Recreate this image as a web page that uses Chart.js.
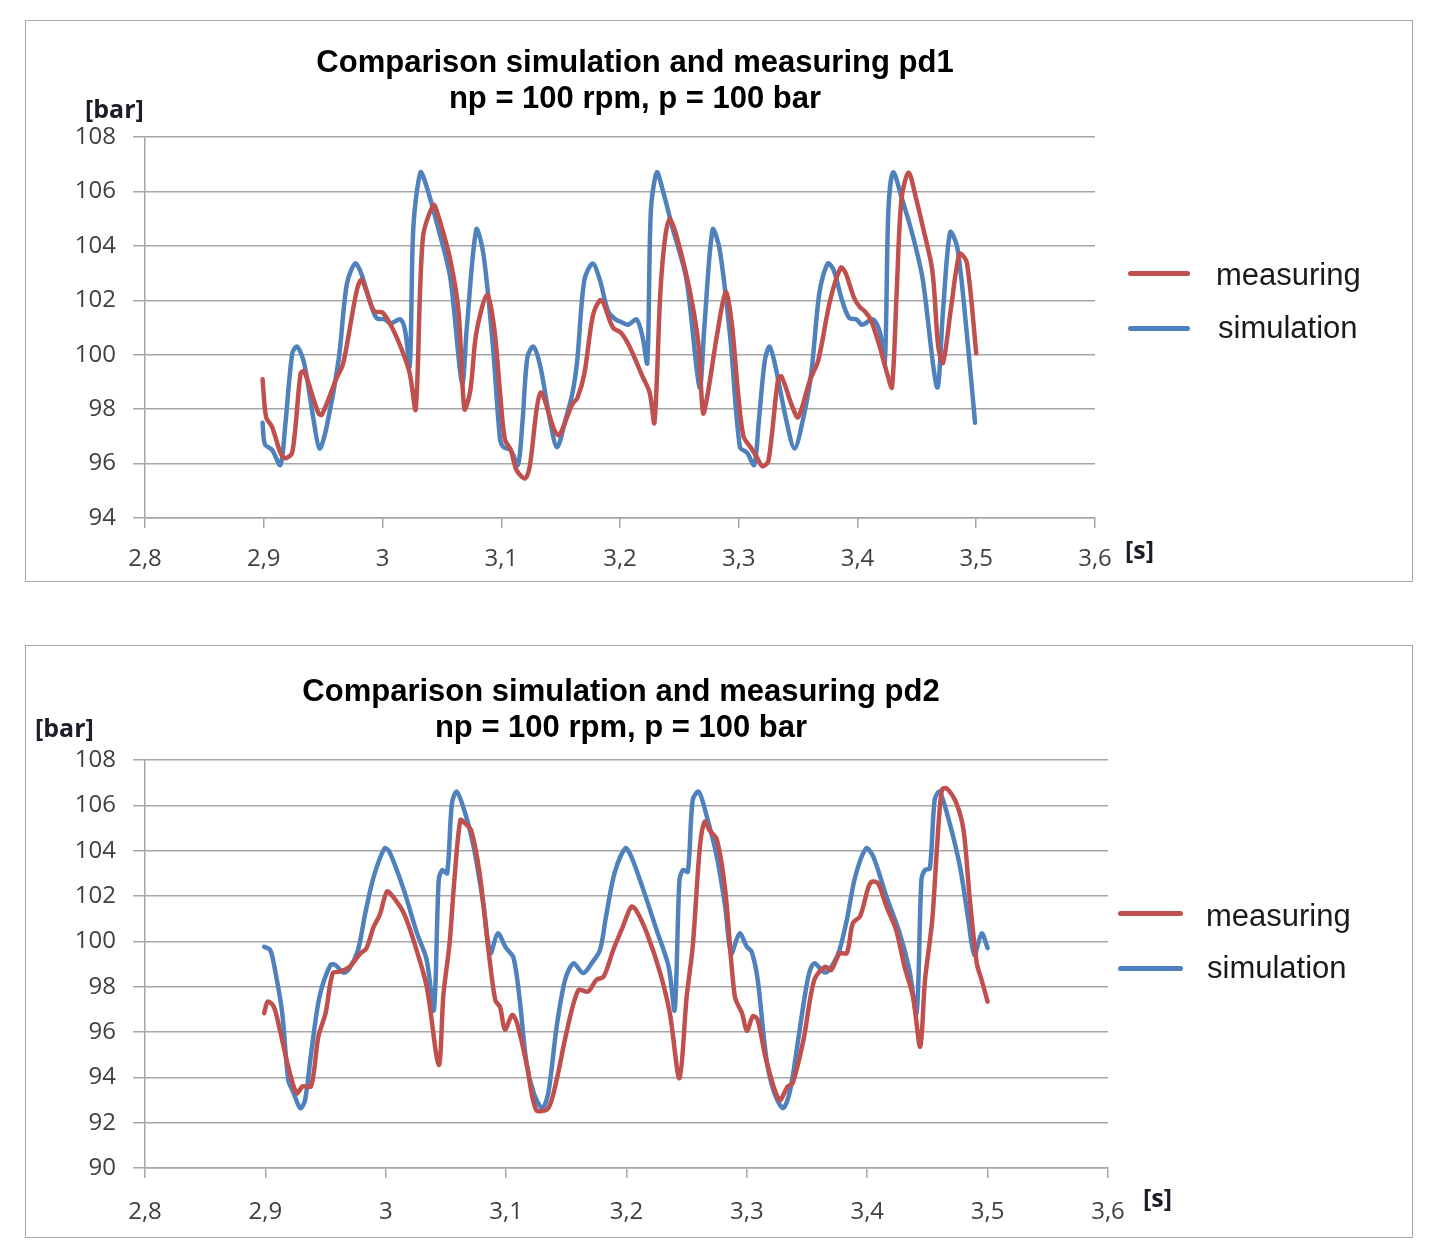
<!DOCTYPE html>
<html>
<head>
<meta charset="utf-8">
<script src="https://cdn.jsdelivr.net/npm/chart.js@4.4.1/dist/chart.umd.min.js"></script>
<style>
    body { margin: 0; background: #fff; width: 1436px; height: 1260px; position: relative; font-family: "Liberation Sans", Arial, sans-serif; }
    .box { position: absolute; border: 1.5px solid #a6a6a6; box-sizing: border-box; }
    canvas { position: absolute; }
    .title { position: absolute; width: 800px; text-align: center; font-weight: bold; font-size: 31px; line-height: 36px; color: #000; white-space: nowrap; }
    .unit { position: absolute; font-family: "Open Sans", sans-serif; font-weight: bold; font-size: 25px; line-height: 30px; color: #1c1c2a; }
    .legend-text { position: absolute; font-size: 31px; line-height: 36px; color: #1a1a1a; }
    .legend-line { position: absolute; height: 5px; border-radius: 3px; }
</style>
</head>
<body>

<div class="box" style="left:25px;top:20px;width:1388px;height:562px;"></div>
<canvas id="pd1" width="1388" height="562" style="left:25px;top:20px;"></canvas>
<div class="title" style="left:235px;top:44px;">Comparison simulation and measuring pd1<br>np = 100 rpm, p = 100 bar</div>
<div class="unit" style="left:85px;top:93px;">[bar]</div>
<div class="unit" style="left:1125px;top:534px;">[s]</div>
<div class="legend-line" style="left:1128px;top:271px;width:62px;background:#c0504d;"></div>
<div class="legend-text" style="left:1216px;top:257px;">measuring</div>
<div class="legend-line" style="left:1128px;top:326px;width:62px;background:#4f81bd;"></div>
<div class="legend-text" style="left:1218px;top:310px;">simulation</div>

<div class="box" style="left:25px;top:645px;width:1388px;height:593px;"></div>
<canvas id="pd2" width="1388" height="593" style="left:25px;top:645px;"></canvas>
<div class="title" style="left:221px;top:673px;">Comparison simulation and measuring pd2<br>np = 100 rpm, p = 100 bar</div>
<div class="unit" style="left:35px;top:712px;">[bar]</div>
<div class="unit" style="left:1143px;top:1182px;">[s]</div>
<div class="legend-line" style="left:1118px;top:911px;width:65px;background:#c0504d;"></div>
<div class="legend-text" style="left:1206px;top:898px;">measuring</div>
<div class="legend-line" style="left:1118px;top:966px;width:65px;background:#4f81bd;"></div>
<div class="legend-text" style="left:1207px;top:950px;">simulation</div>

<script>
const xTicks = [2.8, 2.9, 3.0, 3.1, 3.2, 3.3, 3.4, 3.5, 3.6];

const pd1MeasuringTime = [
    2.899, 2.902, 2.907, 2.914, 2.918, 2.924, 2.931, 2.934, 2.946, 2.949, 2.961, 2.967, 2.978, 2.982, 2.986, 2.993,
    3.000, 3.008, 3.017, 3.023, 3.028, 3.034, 3.043, 3.047, 3.057, 3.064, 3.069, 3.074, 3.079, 3.088, 3.094,
    3.099, 3.103, 3.108, 3.113, 3.120, 3.124, 3.133, 3.145, 3.149, 3.160, 3.164, 3.170, 3.177, 3.183, 3.186, 3.194,
    3.201, 3.208, 3.219, 3.225, 3.229, 3.234, 3.238, 3.242, 3.248, 3.259, 3.266, 3.270, 3.274, 3.282, 3.289, 3.294,
    3.299, 3.304, 3.310, 3.315, 3.320, 3.325, 3.333, 3.336, 3.345, 3.350, 3.360, 3.367, 3.377, 3.386, 3.390, 3.397,
    3.402, 3.406, 3.411, 3.418, 3.425, 3.429, 3.433, 3.437, 3.443, 3.449, 3.455, 3.463, 3.468, 3.472, 3.479, 3.486,
    3.492, 3.500,
];
const pd1MeasuringBar = [
    99.1, 97.7, 97.35, 96.4, 96.2, 96.4, 99.3, 99.4, 97.85, 97.8, 99.1, 99.7, 102.3, 102.75, 102.4, 101.6,
    101.55, 101.0, 100.1, 99.3, 98.0, 104.3, 105.5, 105.1, 103.5, 101.6, 98.0, 98.7, 100.8, 102.2, 101.0,
    98.6, 96.9, 96.5, 95.75, 95.45, 95.9, 98.6, 97.2, 97.05, 98.2, 98.4, 99.3, 101.4, 102.0, 101.9, 101.0,
    100.8, 100.3, 99.2, 98.6, 97.5, 102.3, 104.3, 105.0, 104.3, 102.3, 100.4, 97.85, 98.6, 100.8, 102.3, 101.2,
    98.8, 97.0, 96.6, 96.25, 95.9, 96.1, 99.07, 99.2, 98.1, 97.7, 99.07, 99.8, 102.0, 103.2, 103.0, 102.1,
    101.75, 101.6, 101.3, 100.4, 99.3, 98.8, 102.3, 105.7, 106.7, 105.8, 104.7, 103.1, 100.3, 99.7, 101.8, 103.7,
    103.4, 100.05,
];

const pd1SimulationTime = [
    2.899, 2.901, 2.907, 2.914, 2.918, 2.924, 2.928, 2.934, 2.942, 2.947, 2.953, 2.963, 2.970, 2.977, 2.982, 2.989,
    2.995, 3.002, 3.007, 3.015, 3.019, 3.023, 3.026, 3.032, 3.037, 3.046, 3.057, 3.067, 3.071, 3.079, 3.085, 3.093,
    3.099, 3.102, 3.108, 3.114, 3.118, 3.122, 3.127, 3.133, 3.141, 3.147, 3.154, 3.160, 3.164, 3.170, 3.177, 3.183,
    3.190, 3.196, 3.201, 3.207, 3.214, 3.219, 3.223, 3.226, 3.231, 3.236, 3.244, 3.256, 3.267, 3.271, 3.278, 3.284,
    3.293, 3.301, 3.307, 3.313, 3.317, 3.322, 3.326, 3.331, 3.340, 3.347, 3.354, 3.361, 3.368, 3.375, 3.380, 3.387,
    3.393, 3.399, 3.404, 3.413, 3.419, 3.423, 3.426, 3.430, 3.437, 3.447, 3.455, 3.467, 3.472, 3.478, 3.484, 3.492,
    3.499,
];
const pd1SimulationBar = [
    97.5, 96.7, 96.5, 95.95, 97.35, 100.05, 100.3, 99.7, 97.6, 96.55, 97.35, 99.8, 102.6, 103.35, 103.0, 102.0,
    101.35, 101.3, 101.15, 101.3, 100.9, 99.6, 104.7, 106.7, 106.2, 104.8, 102.85, 98.95, 101.0, 104.6, 103.7, 100.3,
    96.9, 96.6, 96.5, 95.95, 97.6, 99.9, 100.3, 99.55, 97.6, 96.6, 97.6, 98.6, 99.8, 102.75, 103.35, 102.75,
    101.6, 101.3, 101.2, 101.1, 101.3, 100.65, 99.7, 105.3, 106.7, 106.05, 104.7, 102.75, 98.8, 101.0, 104.6, 103.85,
    100.55, 96.6, 96.4, 95.95, 97.6, 99.8, 100.3, 99.55, 97.6, 96.55, 97.6, 99.3, 102.3, 103.35, 103.1, 102.0,
    101.35, 101.3, 101.1, 101.3, 100.8, 99.7, 105.3, 106.7, 105.8, 104.3, 102.75, 98.8, 101.6, 104.5, 103.95, 100.8,
    97.5,
];

const pd2MeasuringTime = [
    2.899, 2.902, 2.907, 2.912, 2.919, 2.926, 2.931, 2.938, 2.944, 2.950, 2.956, 2.962, 2.970, 2.979, 2.984, 2.990,
    2.995, 3.001, 3.006, 3.015, 3.023, 3.034, 3.044, 3.048, 3.053, 3.057, 3.062, 3.066, 3.071, 3.078, 3.085, 3.091,
    3.095, 3.099, 3.105, 3.109, 3.117, 3.125, 3.135, 3.142, 3.150, 3.160, 3.168, 3.175, 3.181, 3.189, 3.197, 3.204,
    3.208, 3.217, 3.228, 3.236, 3.244, 3.250, 3.255, 3.261, 3.265, 3.269, 3.275, 3.282, 3.290, 3.296, 3.300, 3.305,
    3.309, 3.316, 3.327, 3.334, 3.338, 3.347, 3.356, 3.365, 3.370, 3.377, 3.383, 3.388, 3.394, 3.401, 3.404, 3.409,
    3.416, 3.424, 3.431, 3.438, 3.444, 3.448, 3.454, 3.458, 3.462, 3.466, 3.474, 3.480, 3.485, 3.491, 3.495, 3.500,
];
const pd2MeasuringBar = [
    96.83, 97.34, 97.12, 96.1, 94.47, 93.3, 93.6, 93.6, 95.8, 96.83, 98.6, 98.66, 98.88, 99.47, 99.7, 100.65,
    101.16, 102.2, 101.97, 101.24, 100.06, 98.0, 94.55, 97.7, 99.9, 102.7, 105.35, 105.2, 104.9, 103.0, 99.76, 97.4,
    97.1, 96.1, 96.75, 96.4, 94.6, 92.56, 92.64, 93.9, 95.94, 97.85, 97.78, 98.3, 98.44, 99.62, 100.65, 101.53,
    101.38, 100.35, 98.6, 96.83, 93.96, 97.56, 99.76, 104.18, 105.28, 104.9, 104.5, 102.26, 97.56, 96.83, 96.05, 96.7,
    96.53, 94.77, 93.0, 93.6, 93.74, 95.65, 98.3, 98.88, 98.73, 99.47, 99.47, 100.8, 101.1, 102.4, 102.63, 102.56,
    101.53, 100.5, 98.88, 97.56, 95.35, 98.3, 100.94, 104.18, 106.68, 106.75, 106.1, 104.9, 101.97, 99.03, 98.3, 97.34,
];

const pd2SimulationTime = [
    2.899, 2.904, 2.908, 2.914, 2.919, 2.923, 2.929, 2.933, 2.938, 2.945, 2.954, 2.958, 2.965, 2.970, 2.977, 2.983,
    2.990, 2.999, 3.003, 3.015, 3.026, 3.034, 3.040, 3.044, 3.047, 3.051, 3.055, 3.059, 3.066, 3.073, 3.081, 3.087,
    3.093, 3.100, 3.106, 3.111, 3.117, 3.123, 3.130, 3.135, 3.142, 3.149, 3.156, 3.164, 3.171, 3.178, 3.183, 3.190,
    3.199, 3.204, 3.214, 3.225, 3.235, 3.240, 3.244, 3.247, 3.251, 3.255, 3.260, 3.266, 3.275, 3.282, 3.287, 3.294,
    3.300, 3.304, 3.309, 3.316, 3.322, 3.330, 3.336, 3.343, 3.351, 3.356, 3.365, 3.372, 3.377, 3.383, 3.390, 3.399,
    3.405, 3.416, 3.427, 3.435, 3.441, 3.445, 3.448, 3.452, 3.456, 3.460, 3.467, 3.477, 3.484, 3.489, 3.495, 3.500,
];
const pd2SimulationBar = [
    99.76, 99.62, 98.74, 96.83, 93.88, 93.37, 92.64, 93.0, 95.06, 97.56, 98.96, 98.96, 98.62, 98.81, 99.62, 101.24,
    102.85, 104.1, 103.96, 102.27, 100.35, 99.18, 96.97, 102.7, 103.15, 103.0, 106.1, 106.6, 105.65, 104.18, 101.68, 99.47,
    100.35, 99.7, 99.3, 97.56, 94.6, 93.3, 92.64, 93.3, 96.24, 98.3, 99.03, 98.6, 99.03, 99.62, 101.1, 103.0,
    104.1, 103.74, 102.27, 100.5, 98.88, 96.97, 102.7, 103.15, 103.07, 106.24, 106.6, 105.65, 103.74, 101.53, 99.47, 100.35,
    99.76, 99.54, 98.3, 94.91, 93.44, 92.64, 93.44, 95.8, 98.44, 99.03, 98.62, 99.03, 99.62, 100.94, 102.85, 104.1,
    103.74, 101.97, 100.35, 98.74, 96.83, 102.7, 103.15, 103.22, 106.24, 106.6, 105.5, 103.3, 100.94, 99.4, 100.35, 99.7,
];

const MEASURING_COLOR = '#c0504d';
const SIMULATION_COLOR = '#4f81bd';
const GRID_COLOR = '#a6a6a6';
const TICK_FONT = { family: '"Open Sans", sans-serif', size: 24 };

function toPoints(times, values) {
    return times.map((t, i) => ({ x: t, y: values[i] }));
}

function formatDecimal(value) {
    return String(Number(value.toFixed(1))).replace('.', ',');
}

function series(label, times, values, color) {
    return {
        label,
        data: toPoints(times, values),
        borderColor: color,
        backgroundColor: color,
        borderWidth: 4.5,
        pointRadius: 0,
        showLine: true,
        tension: 0.3,
        borderCapStyle: 'round',
        borderJoinStyle: 'round',
    };
}

function drawComparison(canvasId, measuring, simulation, yRange, frame) {
    const [yMin, yMax] = yRange;

    return new Chart(document.getElementById(canvasId), {
        type: 'scatter',
        data: {
            datasets: [
                series('measuring', measuring[0], measuring[1], MEASURING_COLOR),
                series('simulation', simulation[0], simulation[1], SIMULATION_COLOR),
            ],
        },
        options: {
            responsive: false,
            animation: false,
            layout: {
                padding: { top: frame.top, right: frame.right, left: 0, bottom: 0 },
            },
            plugins: {
                legend: { display: false },
                tooltip: { enabled: false },
            },
            scales: {
                x: {
                    type: 'linear',
                    min: xTicks[0],
                    max: xTicks[xTicks.length - 1],
                    afterBuildTicks: (scale) => {
                        scale.ticks = xTicks.map((value) => ({ value }));
                    },
                    afterFit: (scale) => {
                        scale.height = frame.bottom;
                    },
                    border: { display: true, color: GRID_COLOR, width: 1.5 },
                    grid: {
                        drawOnChartArea: false,
                        drawTicks: true,
                        tickLength: 10,
                        color: GRID_COLOR,
                        lineWidth: 1.5,
                    },
                    ticks: {
                        color: '#404040',
                        font: TICK_FONT,
                        padding: frame.labelGap,
                        maxRotation: 0,
                        autoSkip: false,
                        callback: (value) => formatDecimal(value),
                    },
                },
                y: {
                    min: yMin,
                    max: yMax,
                    afterFit: (scale) => {
                        scale.width = frame.left;
                    },
                    border: { display: true, color: GRID_COLOR, width: 1.5 },
                    grid: {
                        color: GRID_COLOR,
                        lineWidth: 1.5,
                        tickLength: 12,
                    },
                    ticks: {
                        stepSize: 2,
                        color: '#404040',
                        font: TICK_FONT,
                        padding: 17,
                    },
                },
            },
        },
    });
}

drawComparison(
    'pd1',
    [pd1MeasuringTime, pd1MeasuringBar],
    [pd1SimulationTime, pd1SimulationBar],
    [94, 108],
    { left: 120, top: 117, right: 318, bottom: 64, labelGap: 17 },
);

drawComparison(
    'pd2',
    [pd2MeasuringTime, pd2MeasuringBar],
    [pd2SimulationTime, pd2SimulationBar],
    [90, 108],
    { left: 120, top: 115, right: 305, bottom: 70, labelGap: 20 },
);
</script>
</body>
</html>
